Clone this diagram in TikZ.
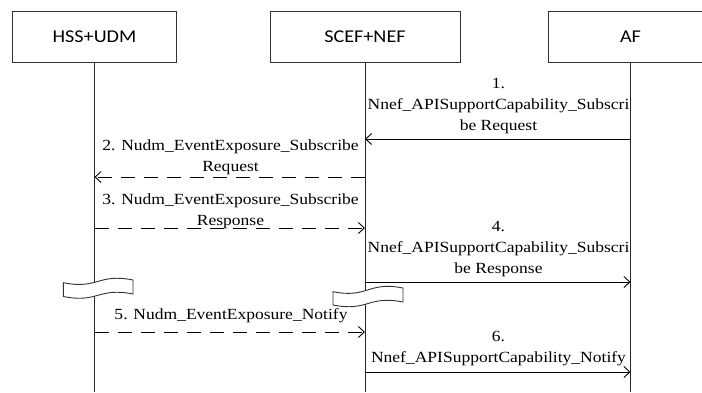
\documentclass[tikz,border=0pt]{standalone}
\usepackage{fontspec}
\setmainfont{Liberation Serif}[FakeStretch=1.13]
\newfontfamily\boxfont{Carlito}[FakeStretch=1.12]
\usetikzlibrary{arrows.meta}
\begin{document}
\begin{tikzpicture}[x=1pt,y=1pt]
\tikzset{
 actor/.style={draw=black!80, line width=0.9pt, minimum width=164.4pt, minimum height=50.6pt, inner sep=0pt, font=\boxfont\fontsize{18}{20}\selectfont},
 life/.style={draw=black!85, line width=0.9pt},
 msg/.style={draw=black, line width=0.9pt, -{Straight Barb[length=6pt,width=11pt]}},
 dmsg/.style={msg, dash pattern=on 14pt off 9pt},
 lbl/.style={align=center, inner sep=0pt, font=\fontsize{15.5}{21}\selectfont},
 brk/.style={draw=black!80, fill=white, line width=0.9pt}
}
\useasboundingbox (0,0) rectangle (702,-392);
\clip (0,0) rectangle (702,-392);
% actors
\node[actor] (hss) at (94.5,-37) {HSS+UDM};
\node[actor, minimum width=190pt] (scef) at (365,-37) {SCEF+NEF};
\node[actor] (af) at (630.5,-37) {AF};
% lifeline ends
\coordinate (hssE) at (hss.south |- 0,-392);
\coordinate (scefE) at (scef.south |- 0,-392);
\coordinate (afE) at (af.south |- 0,-392);
\draw[life] (hss.south) -- (hssE);
\draw[life] (scef.south) -- (scefE);
\draw[life] (af.south) -- (afE);
% breaks
\draw[brk] (63.3,-282.7) .. controls (98,-289.7) and (98,-273) .. (133,-280) -- (133,-294) .. controls (98,-287) and (98,-303.5) .. (63.3,-296.5) -- cycle;
\draw[brk] (333,-291.7) .. controls (368,-298.7) and (368,-281) .. (403,-288) -- (403,-302) .. controls (368,-295) and (368,-312) .. (333,-305) -- cycle;
% message end points
\coordinate (m1a) at (af.south |- 0,-139);  \coordinate (m1b) at (scef.south |- 0,-139);
\coordinate (m2a) at (scef.south |- 0,-177); \coordinate (m2b) at (hss.south |- 0,-177);
\coordinate (m3a) at (hss.south |- 0,-228);  \coordinate (m3b) at (scef.south |- 0,-228);
\coordinate (m4a) at (scef.south |- 0,-282); \coordinate (m4b) at (af.south |- 0,-282);
\coordinate (m5a) at (hss.south |- 0,-332);  \coordinate (m5b) at (scef.south |- 0,-332);
\coordinate (m6a) at (scef.south |- 0,-372); \coordinate (m6b) at (af.south |- 0,-372);
% labels
\node[lbl] (l1) at (498.5,-106) {1.\\Nnef\_APISupportCapability\_Subscri\\be Request};
\node[lbl] (l2) at (230.5,-157.5) {2. Nudm\_EventExposure\_Subscribe\\Request};
\node[lbl] (l3) at (230.5,-211) {3. Nudm\_EventExposure\_Subscribe\\Response};
\node[lbl] (l4) at (498.5,-249.5) {4.\\Nnef\_APISupportCapability\_Subscri\\be Response};
\node[lbl] (l5) at (231,-316) {5. Nudm\_EventExposure\_Notify};
\node[lbl] (l6) at (498.5,-348.5) {6.\\Nnef\_APISupportCapability\_Notify};
% messages
\draw[msg] (m1a) -- (m1b);
\draw[dmsg] (m2a) -- (m2b);
\draw[dmsg] (m3a) -- (m3b);
\draw[msg] (m4a) -- (m4b);
\draw[dmsg] (m5a) -- (m5b);
\draw[msg] (m6a) -- (m6b);
\end{tikzpicture}
\end{document}
